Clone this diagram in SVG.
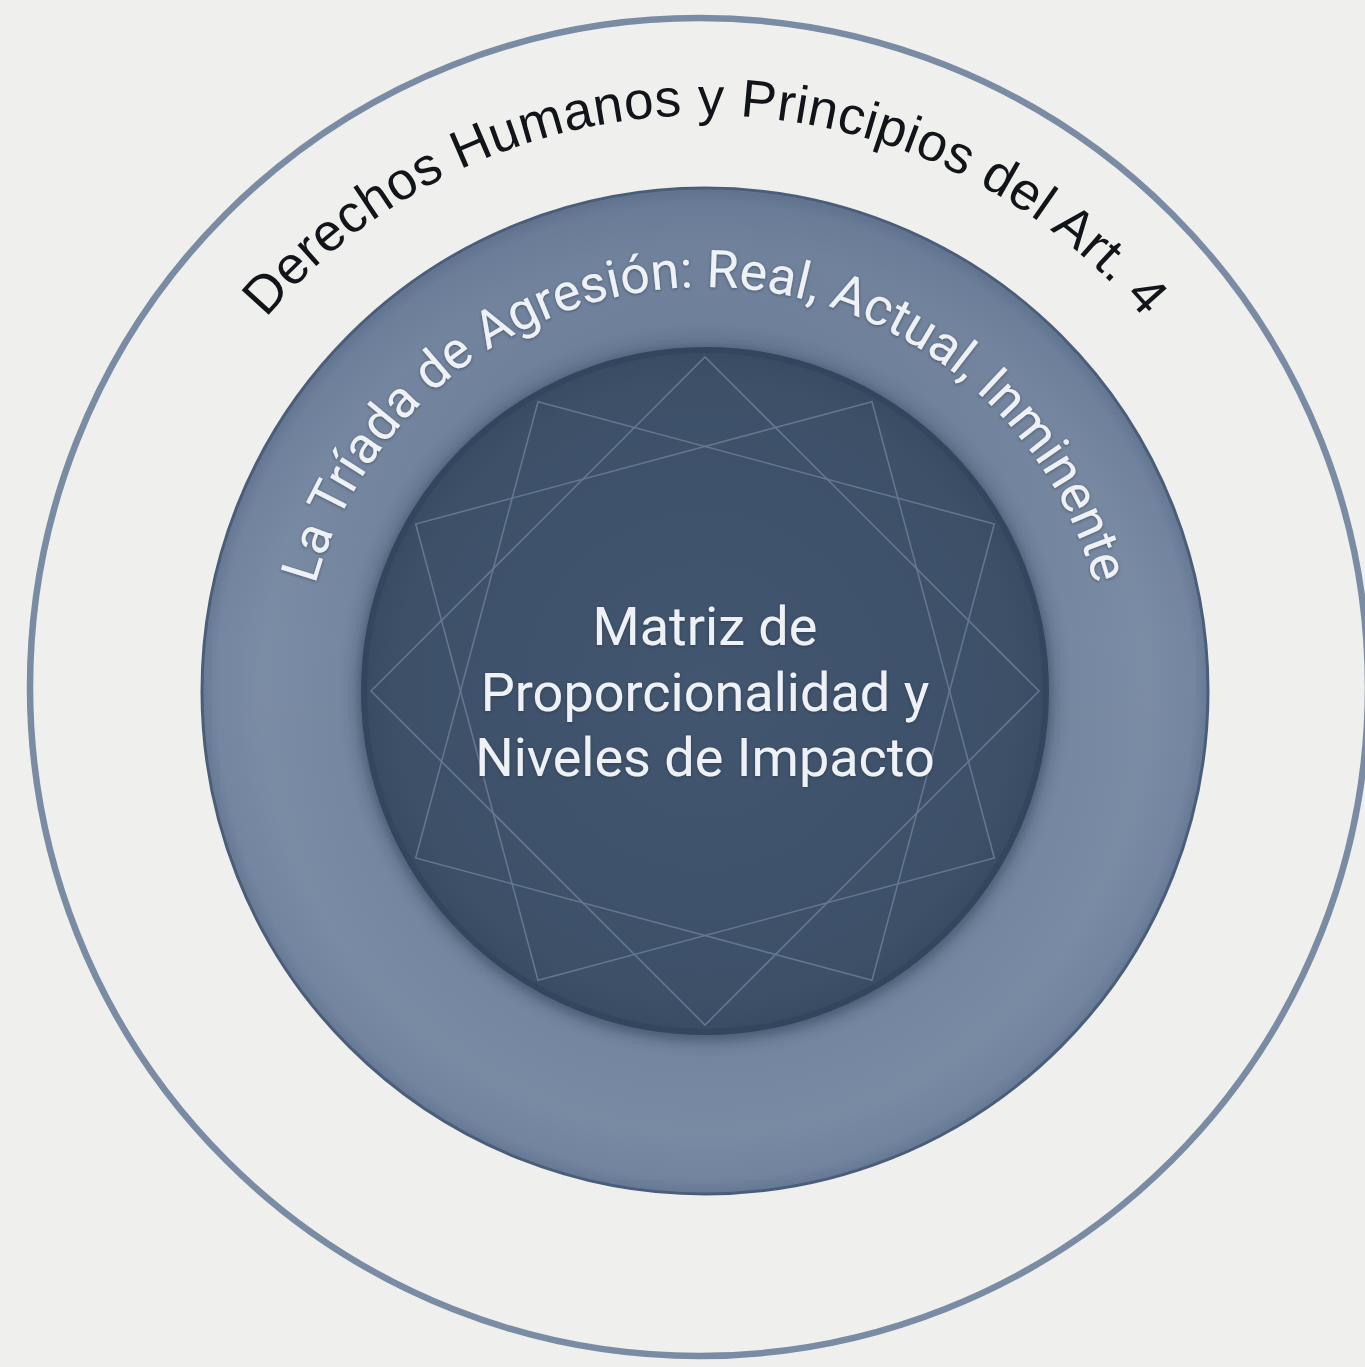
<svg xmlns="http://www.w3.org/2000/svg" width="1365" height="1367" viewBox="0 0 1365 1367">
  <defs>
    <radialGradient id="ringGrad" cx="705" cy="691" r="503" gradientUnits="userSpaceOnUse">
      <stop offset="0.67" stop-color="#63768f"/>
      <stop offset="0.73" stop-color="#7688a1"/>
      <stop offset="0.88" stop-color="#7b8ca5"/>
      <stop offset="0.97" stop-color="#7486a0"/>
      <stop offset="1" stop-color="#677a95"/>
    </radialGradient>
    <linearGradient id="ringShade" x1="0" y1="0" x2="0" y2="1">
      <stop offset="0" stop-color="#2f4260" stop-opacity="0.16"/>
      <stop offset="0.45" stop-color="#2f4260" stop-opacity="0"/>
      <stop offset="1" stop-color="#2f4260" stop-opacity="0.03"/>
    </linearGradient>
    <radialGradient id="coreGrad" cx="705" cy="691" r="343" gradientUnits="userSpaceOnUse">
      <stop offset="0" stop-color="#425670"/>
      <stop offset="0.9" stop-color="#3d5068"/>
      <stop offset="1" stop-color="#394b62"/>
    </radialGradient>
    <filter id="blur6" x="-20%" y="-20%" width="140%" height="140%">
      <feGaussianBlur stdDeviation="5"/>
    </filter>
    <filter id="txtShadow" x="-10%" y="-10%" width="120%" height="120%">
      <feDropShadow dx="0" dy="1" stdDeviation="1.5" flood-color="#1c2838" flood-opacity="0.5"/>
    </filter>
    <path id="outerArc" d="M 129 691 A 576 576 0 0 1 1281 691"/>
    <path id="midArc" d="M 301 691 A 404 404 0 0 1 1109 691"/>
  </defs>
  <style>
    .outerTxt { font-family: "Liberation Sans", Arial, sans-serif; font-size: 53px; fill: #111418; letter-spacing: 0.5px; }
    .midTxt { font-family: Roboto, "Noto Sans", sans-serif; font-size: 52px; fill: #eef2f6; }
    .coreTxt { font-family: Roboto, "Noto Sans", sans-serif; font-size: 54px; fill: #eef2f6; text-anchor: middle; }
    .star { fill: none; stroke: #677a93; stroke-width: 1.6; stroke-opacity: 0.9; }
  </style>

  <rect x="0" y="0" width="1365" height="1367" fill="#efefed"/>

  <g id="outer-ring">
    <circle cx="699" cy="687" r="669" fill="none" stroke="#7a8ba4" stroke-width="6.5"/>
    <text class="outerTxt"><textPath href="#outerArc" startOffset="50%" text-anchor="middle">Derechos Humanos y Principios del Art. 4</textPath></text>
  </g>

  <g id="middle-ring">
    <circle cx="705" cy="691" r="503" fill="url(#ringGrad)" stroke="#4b5e79" stroke-width="3"/>
    <circle cx="705" cy="691" r="501" fill="url(#ringShade)"/>
    <text class="midTxt" filter="url(#txtShadow)"><textPath href="#midArc" startOffset="50%" text-anchor="middle">La Tríada de Agresión: Real, Actual, Inminente</textPath></text>
  </g>

  <g id="core">
    <circle cx="705" cy="694" r="347" fill="#2c3b50" opacity="0.4" filter="url(#blur6)"/>
    <circle cx="705" cy="691" r="341" fill="url(#coreGrad)" stroke="#33465d" stroke-width="6"/>
    <polygon class="star" points="1039,691 705,357 371,691 705,1025"/>
    <polygon class="star" points="994.3,524 538,401.7 415.7,858 872,980.3"/>
    <polygon class="star" points="872,401.7 415.7,524 538,980.3 994.3,858"/>
    <g filter="url(#txtShadow)">
      <text class="coreTxt" x="705" y="645">Matriz de</text>
      <text class="coreTxt" x="705" y="711">Proporcionalidad y</text>
      <text class="coreTxt" x="705" y="776">Niveles de Impacto</text>
    </g>
  </g>

  <g id="connectors"></g>
</svg>
